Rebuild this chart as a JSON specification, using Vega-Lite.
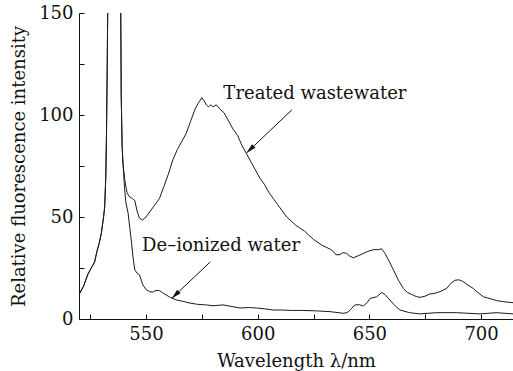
{
  "$schema": "https://vega.github.io/schema/vega-lite/v6.json",
  "width": 434,
  "height": 306,
  "autosize": "none",
  "padding": {"left": 79, "top": 13, "right": 0, "bottom": 52},
  "background": "white",
  "config": {
    "view": {"stroke": null},
    "font": "DejaVu Serif",
    "axis": {
      "domainColor": "#111",
      "domainWidth": 1,
      "tickColor": "#111",
      "tickSize": -5,
      "tickWidth": 1,
      "grid": false,
      "labelFont": "DejaVu Serif",
      "labelFontSize": 18,
      "labelColor": "#111",
      "titleFont": "DejaVu Serif",
      "titleFontSize": 18,
      "titleFontWeight": "normal",
      "titleColor": "#111"
    }
  },
  "datasets": {
    "spectra": [
      {"s": "T", "wl": 520, "v": 12}, {"s": "T", "wl": 522, "v": 16}, {"s": "T", "wl": 524, "v": 22}, {"s": "T", "wl": 526, "v": 26}, {"s": "T", "wl": 527, "v": 28}, {"s": "T", "wl": 528, "v": 33}, {"s": "T", "wl": 529, "v": 37}, {"s": "T", "wl": 530, "v": 42}, {"s": "T", "wl": 531, "v": 50}, {"s": "T", "wl": 531.5, "v": 55}, {"s": "T", "wl": 532, "v": 70}, {"s": "T", "wl": 532.3, "v": 90}, {"s": "T", "wl": 532.6, "v": 120}, {"s": "T", "wl": 533, "v": 170}, {"s": "T", "wl": 534, "v": 400}, {"s": "T", "wl": 536, "v": 500}, {"s": "T", "wl": 538, "v": 400}, {"s": "T", "wl": 538.6, "v": 170}, {"s": "T", "wl": 538.9, "v": 110}, {"s": "T", "wl": 539.3, "v": 85}, {"s": "T", "wl": 539.7, "v": 76},
      {"s": "T", "wl": 540.5, "v": 68}, {"s": "T", "wl": 541.5, "v": 62}, {"s": "T", "wl": 542.5, "v": 60}, {"s": "T", "wl": 544, "v": 59}, {"s": "T", "wl": 545, "v": 58}, {"s": "T", "wl": 546, "v": 53}, {"s": "T", "wl": 547, "v": 49.5}, {"s": "T", "wl": 548.5, "v": 48.5}, {"s": "T", "wl": 550, "v": 50}, {"s": "T", "wl": 552, "v": 53}, {"s": "T", "wl": 554, "v": 56}, {"s": "T", "wl": 556, "v": 59}, {"s": "T", "wl": 558, "v": 65}, {"s": "T", "wl": 560, "v": 71}, {"s": "T", "wl": 562, "v": 78}, {"s": "T", "wl": 564, "v": 83}, {"s": "T", "wl": 566, "v": 87}, {"s": "T", "wl": 568, "v": 91}, {"s": "T", "wl": 570, "v": 97}, {"s": "T", "wl": 572, "v": 103}, {"s": "T", "wl": 573.5, "v": 106}, {"s": "T", "wl": 575, "v": 108.5}, {"s": "T", "wl": 576, "v": 107}, {"s": "T", "wl": 577, "v": 105}, {"s": "T", "wl": 578, "v": 104}, {"s": "T", "wl": 579, "v": 105}, {"s": "T", "wl": 580, "v": 104}, {"s": "T", "wl": 581.5, "v": 105}, {"s": "T", "wl": 583, "v": 103}, {"s": "T", "wl": 585, "v": 101}, {"s": "T", "wl": 587, "v": 97}, {"s": "T", "wl": 589, "v": 93}, {"s": "T", "wl": 591, "v": 90}, {"s": "T", "wl": 593, "v": 85}, {"s": "T", "wl": 595, "v": 81}, {"s": "T", "wl": 597, "v": 77}, {"s": "T", "wl": 599, "v": 73}, {"s": "T", "wl": 601, "v": 69}, {"s": "T", "wl": 603, "v": 66}, {"s": "T", "wl": 605, "v": 62}, {"s": "T", "wl": 607, "v": 59}, {"s": "T", "wl": 609, "v": 56}, {"s": "T", "wl": 611, "v": 53}, {"s": "T", "wl": 613, "v": 50}, {"s": "T", "wl": 615, "v": 48}, {"s": "T", "wl": 617, "v": 46}, {"s": "T", "wl": 619, "v": 44.5}, {"s": "T", "wl": 621, "v": 43}, {"s": "T", "wl": 623, "v": 41}, {"s": "T", "wl": 625, "v": 39}, {"s": "T", "wl": 627, "v": 37.5}, {"s": "T", "wl": 629, "v": 36}, {"s": "T", "wl": 631, "v": 35}, {"s": "T", "wl": 632.5, "v": 34.2}, {"s": "T", "wl": 634, "v": 33}, {"s": "T", "wl": 635, "v": 31.5}, {"s": "T", "wl": 636.8, "v": 31.5}, {"s": "T", "wl": 638, "v": 32.5}, {"s": "T", "wl": 639.8, "v": 32.2}, {"s": "T", "wl": 641, "v": 31}, {"s": "T", "wl": 642.8, "v": 30}, {"s": "T", "wl": 645, "v": 31}, {"s": "T", "wl": 647, "v": 32}, {"s": "T", "wl": 649, "v": 33}, {"s": "T", "wl": 650.3, "v": 33.5}, {"s": "T", "wl": 652, "v": 34}, {"s": "T", "wl": 654, "v": 34}, {"s": "T", "wl": 655.5, "v": 34.4}, {"s": "T", "wl": 657, "v": 32.2}, {"s": "T", "wl": 659, "v": 28}, {"s": "T", "wl": 660.8, "v": 24}, {"s": "T", "wl": 663, "v": 19}, {"s": "T", "wl": 665.2, "v": 15}, {"s": "T", "wl": 667, "v": 13}, {"s": "T", "wl": 669, "v": 12}, {"s": "T", "wl": 671, "v": 11}, {"s": "T", "wl": 672.7, "v": 10.6}, {"s": "T", "wl": 675, "v": 11.2}, {"s": "T", "wl": 677, "v": 12.3}, {"s": "T", "wl": 679, "v": 12.5}, {"s": "T", "wl": 681.6, "v": 13.4}, {"s": "T", "wl": 684.6, "v": 15}, {"s": "T", "wl": 686.5, "v": 17.5}, {"s": "T", "wl": 688.3, "v": 19}, {"s": "T", "wl": 690, "v": 19.2}, {"s": "T", "wl": 691.3, "v": 18.8}, {"s": "T", "wl": 693, "v": 17.5}, {"s": "T", "wl": 695, "v": 16}, {"s": "T", "wl": 696.5, "v": 15}, {"s": "T", "wl": 698, "v": 13.5}, {"s": "T", "wl": 701, "v": 10.9}, {"s": "T", "wl": 704, "v": 10}, {"s": "T", "wl": 707, "v": 9}, {"s": "T", "wl": 710, "v": 8.5}, {"s": "T", "wl": 714.3, "v": 8},
      {"s": "D", "wl": 520, "v": 12}, {"s": "D", "wl": 522, "v": 16}, {"s": "D", "wl": 524, "v": 22}, {"s": "D", "wl": 526, "v": 26}, {"s": "D", "wl": 527, "v": 28}, {"s": "D", "wl": 528, "v": 33}, {"s": "D", "wl": 529, "v": 37}, {"s": "D", "wl": 530, "v": 42}, {"s": "D", "wl": 531, "v": 50}, {"s": "D", "wl": 531.5, "v": 55}, {"s": "D", "wl": 532, "v": 70}, {"s": "D", "wl": 532.3, "v": 90}, {"s": "D", "wl": 532.6, "v": 120}, {"s": "D", "wl": 533, "v": 170}, {"s": "D", "wl": 534, "v": 400}, {"s": "D", "wl": 536, "v": 500}, {"s": "D", "wl": 538, "v": 400}, {"s": "D", "wl": 538.6, "v": 170}, {"s": "D", "wl": 538.9, "v": 110}, {"s": "D", "wl": 539.3, "v": 85}, {"s": "D", "wl": 539.7, "v": 76},
      {"s": "D", "wl": 540.4, "v": 64}, {"s": "D", "wl": 541, "v": 57}, {"s": "D", "wl": 542, "v": 51.8}, {"s": "D", "wl": 542.7, "v": 45}, {"s": "D", "wl": 543.4, "v": 38.7}, {"s": "D", "wl": 544.2, "v": 30}, {"s": "D", "wl": 545, "v": 24}, {"s": "D", "wl": 546, "v": 22.5}, {"s": "D", "wl": 547.1, "v": 21.6}, {"s": "D", "wl": 548, "v": 18.5}, {"s": "D", "wl": 548.6, "v": 16.7}, {"s": "D", "wl": 550, "v": 14.5}, {"s": "D", "wl": 551.6, "v": 13.4}, {"s": "D", "wl": 553, "v": 13.2}, {"s": "D", "wl": 554.5, "v": 14}, {"s": "D", "wl": 556, "v": 13.9}, {"s": "D", "wl": 557.5, "v": 12.8}, {"s": "D", "wl": 559, "v": 11.8}, {"s": "D", "wl": 561, "v": 10.5}, {"s": "D", "wl": 563.7, "v": 9.3}, {"s": "D", "wl": 566, "v": 8.8}, {"s": "D", "wl": 569.7, "v": 7.8}, {"s": "D", "wl": 573, "v": 7.2}, {"s": "D", "wl": 577, "v": 6.9}, {"s": "D", "wl": 580, "v": 6.5}, {"s": "D", "wl": 584.5, "v": 6.9}, {"s": "D", "wl": 588, "v": 6.2}, {"s": "D", "wl": 592, "v": 5.4}, {"s": "D", "wl": 596, "v": 5.6}, {"s": "D", "wl": 599.5, "v": 5.4}, {"s": "D", "wl": 603, "v": 5}, {"s": "D", "wl": 607, "v": 4.4}, {"s": "D", "wl": 611, "v": 4.4}, {"s": "D", "wl": 615, "v": 4.2}, {"s": "D", "wl": 620, "v": 4.2}, {"s": "D", "wl": 626, "v": 4}, {"s": "D", "wl": 632.4, "v": 3.6}, {"s": "D", "wl": 638.3, "v": 2.8}, {"s": "D", "wl": 640, "v": 3.1}, {"s": "D", "wl": 641.5, "v": 4.5}, {"s": "D", "wl": 643.5, "v": 6.9}, {"s": "D", "wl": 645.5, "v": 7}, {"s": "D", "wl": 647.3, "v": 6.4}, {"s": "D", "wl": 649, "v": 8}, {"s": "D", "wl": 650.3, "v": 10.1}, {"s": "D", "wl": 653.3, "v": 10.9}, {"s": "D", "wl": 655.5, "v": 13}, {"s": "D", "wl": 657, "v": 12}, {"s": "D", "wl": 659.2, "v": 9.3}, {"s": "D", "wl": 661.5, "v": 6.5}, {"s": "D", "wl": 663.7, "v": 4.4}, {"s": "D", "wl": 668, "v": 3.1}, {"s": "D", "wl": 672.7, "v": 2.5}, {"s": "D", "wl": 680, "v": 3.1}, {"s": "D", "wl": 689, "v": 3.1}, {"s": "D", "wl": 699.5, "v": 2.5}, {"s": "D", "wl": 707, "v": 3.1}, {"s": "D", "wl": 714.3, "v": 2.5}
    ],
    "labels": [
      {"wl": 625.6, "v": 110.3, "t": "Treated wastewater"},
      {"wl": 583.6, "v": 35.8, "t": "De–ionized water"}
    ],
    "arrows": [
      {"wl": 615.3, "v": 102.5, "wl2": 595, "v2": 81.4},
      {"wl": 578.8, "v": 28, "wl2": 561.5, "v2": 10.1}
    ]
  },
  "layer": [
    {
      "data": {"name": "spectra"},
      "mark": {"type": "line", "clip": true, "color": "#1a1a1a", "strokeWidth": 1},
      "encoding": {
        "x": {
          "field": "wl", "type": "quantitative",
          "scale": {"domain": [520, 714.3], "nice": false, "zero": false},
          "axis": {
            "title": "Wavelength λ/nm",
            "values": [525, 550, 575, 600, 625, 650, 675, 700],
            "labelExpr": "datum.value % 50 == 0 ? datum.label : ''",
            "labelPadding": 11,
            "titlePadding": 9
          }
        },
        "y": {
          "field": "v", "type": "quantitative",
          "scale": {"domain": [0, 150], "nice": false},
          "axis": {
            "title": "Relative fluorescence intensity",
            "values": [0, 25, 50, 75, 100, 125, 150],
            "labelExpr": "datum.value % 50 == 0 ? datum.label : ''",
            "labelPadding": 11,
            "titlePadding": 10
          }
        },
        "detail": {"field": "s"}
      }
    },
    {
      "data": {"name": "labels"},
      "mark": {"type": "text", "font": "DejaVu Serif", "fontSize": 18, "color": "#111", "baseline": "middle", "align": "center"},
      "encoding": {
        "x": {"field": "wl", "type": "quantitative"},
        "y": {"field": "v", "type": "quantitative"},
        "text": {"field": "t"}
      }
    },
    {
      "data": {"name": "arrows"},
      "mark": {"type": "rule", "color": "#111", "strokeWidth": 1},
      "encoding": {
        "x": {"field": "wl", "type": "quantitative"},
        "y": {"field": "v", "type": "quantitative"},
        "x2": {"field": "wl2"},
        "y2": {"field": "v2"}
      }
    },
    {
      "data": {"name": "arrows"},
      "mark": {"type": "point", "shape": "M0,0L-0.5,2L0.5,2Z", "filled": true, "color": "#111", "opacity": 1, "size": 100, "angle": 226},
      "encoding": {
        "x": {"field": "wl2", "type": "quantitative"},
        "y": {"field": "v2", "type": "quantitative"}
      }
    }
  ]
}
